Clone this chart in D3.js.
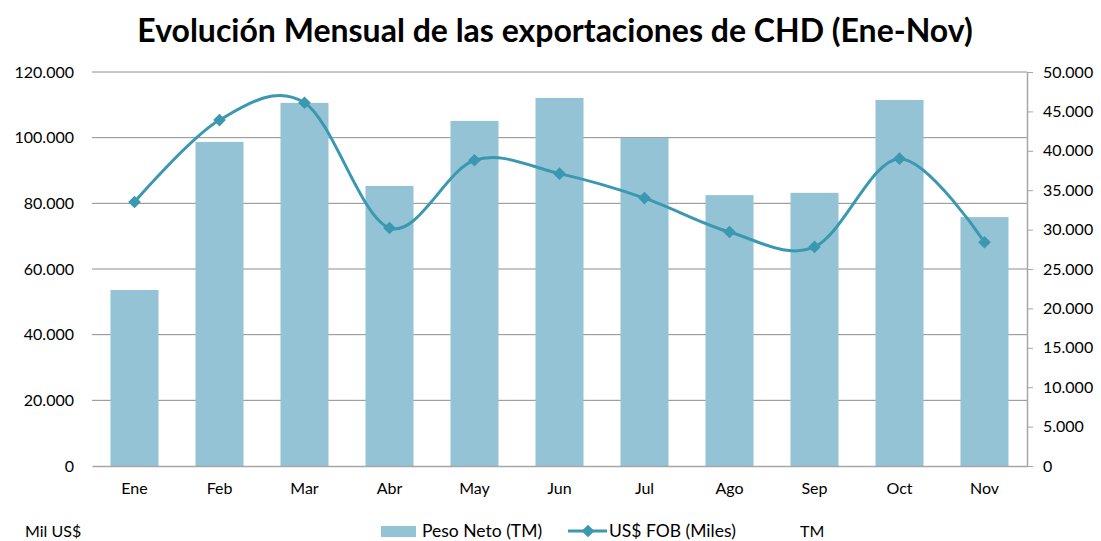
<!DOCTYPE html>
<html>
<head>
<meta charset="utf-8">
<script src="https://cdn.jsdelivr.net/npm/d3@7"></script>
<style>
  body { margin: 0; background: #fff; }
  text { font-family: Lato, "Open Sans", sans-serif; fill: #000; }
</style>
</head>
<body>
<div id="chart-area"></div>
<script>
const months = ["Ene", "Feb", "Mar", "Abr", "May", "Jun", "Jul", "Ago", "Sep", "Oct", "Nov"];
const pesoNeto = [53600, 98700, 110600, 85300, 105100, 112100, 99900, 82500, 83200, 111500, 75800];
const fobMiles = [33500, 43900, 46100, 30200, 38800, 37100, 34000, 29700, 27800, 39000, 28400];
const leftTicks = [0, 20000, 40000, 60000, 80000, 100000, 120000];
const rightTicks = [0, 5000, 10000, 15000, 20000, 25000, 30000, 35000, 40000, 45000, 50000];

const W = 1101, H = 541;
const margin = {top: 72, right: 74, bottom: 75, left: 92};
const width = W - margin.left - margin.right;
const height = H - margin.top - margin.bottom;

const barColor = "#93c3d4";
const lineColor = "#3a98b0";
const gridColor = "#8c8c8c";

const root = d3.select("#chart-area").append("svg")
    .attr("width", W)
    .attr("height", H);

root.append("text")
    .attr("x", 555)
    .attr("y", 42)
    .attr("text-anchor", "middle")
    .style("font-size", "32px")
    .style("font-weight", "bold")
    .text("Evolución Mensual de las exportaciones de CHD (Ene-Nov)");

const svg = root.append("g")
    .attr("transform", `translate(${margin.left}, ${margin.top})`);

const xScale = d3.scaleBand()
    .domain(months)
    .range([0, width])
    .paddingInner(0.435)
    .paddingOuter(0.2175);

const yLeft = d3.scaleLinear().domain([0, 120000]).range([height, 0]);
const yRight = d3.scaleLinear().domain([0, 50000]).range([height, 0]);

const thousands = d => d === 0 ? "0" : d3.format(".3f")(d / 1000);

// gridlines
svg.append("g")
    .selectAll("line")
    .data(leftTicks.slice(1))
    .join("line")
    .attr("x1", 0)
    .attr("x2", width)
    .attr("y1", d => yLeft(d))
    .attr("y2", d => yLeft(d))
    .attr("stroke", gridColor)
    .attr("stroke-width", 1);

// bars
svg.append("g")
    .selectAll("rect")
    .data(months)
    .join("rect")
    .attr("x", d => xScale(d))
    .attr("width", xScale.bandwidth())
    .attr("y", (d, i) => yLeft(pesoNeto[i]))
    .attr("height", (d, i) => height - yLeft(pesoNeto[i]))
    .attr("fill", barColor);

// left axis (labels only)
const leftAxis = svg.append("g")
    .call(d3.axisLeft(yLeft).tickValues(leftTicks).tickSize(0).tickPadding(18).tickFormat(thousands));
leftAxis.select(".domain").remove();
leftAxis.selectAll("text")
    .style("font-size", "16px")
    .style("font-family", "Lato, sans-serif");

// bottom axis
const bottomAxis = svg.append("g")
    .attr("transform", `translate(0, ${height})`)
    .call(d3.axisBottom(xScale).tickSize(0).tickPadding(17));
bottomAxis.select(".domain").attr("stroke", "#a6a6a6").attr("stroke-width", 1.5);
bottomAxis.selectAll("text")
    .style("font-size", "16px")
    .style("font-family", "Lato, sans-serif");

// right axis
const rightAxis = svg.append("g")
    .attr("transform", `translate(${width}, 0)`)
    .call(d3.axisRight(yRight).tickValues(rightTicks).tickSize(6).tickSizeOuter(0).tickPadding(10).tickFormat(thousands));
rightAxis.select(".domain").attr("stroke", "#a6a6a6").attr("stroke-width", 1.5);
rightAxis.selectAll("line").attr("stroke", "#a6a6a6");
rightAxis.selectAll("text")
    .style("font-size", "16px")
    .style("font-family", "Lato, sans-serif");

// line
const cx = d => xScale(d) + xScale.bandwidth() / 2;
const line = d3.line()
    .x(d => cx(d.m))
    .y(d => yRight(d.v))
    .curve(d3.curveCardinal.tension(0));
const pts = months.map((m, i) => ({m, v: fobMiles[i]}));

svg.append("path")
    .datum(pts)
    .attr("d", line)
    .attr("fill", "none")
    .attr("stroke", lineColor)
    .attr("stroke-width", 3);

const diamond = d3.symbol().type(d3.symbolSquare).size(80);
svg.append("g")
    .selectAll("path")
    .data(pts)
    .join("path")
    .attr("d", diamond)
    .attr("transform", d => `translate(${cx(d.m)}, ${yRight(d.v)}) rotate(45)`)
    .attr("fill", lineColor);

// legend
const legend = root.append("g");
legend.append("text")
    .attr("x", 25).attr("y", 537)
    .style("font-size", "16px")
    .text("Mil US$");
legend.append("rect")
    .attr("x", 381).attr("y", 526)
    .attr("width", 35).attr("height", 11)
    .attr("fill", barColor);
legend.append("text")
    .attr("x", 422).attr("y", 537)
    .style("font-size", "17.5px")
    .text("Peso Neto (TM)");
legend.append("line")
    .attr("x1", 568).attr("x2", 607)
    .attr("y1", 531).attr("y2", 531)
    .attr("stroke", lineColor)
    .attr("stroke-width", 3);
legend.append("path")
    .attr("d", diamond)
    .attr("transform", "translate(588, 531) rotate(45)")
    .attr("fill", lineColor);
legend.append("text")
    .attr("x", 609).attr("y", 537)
    .style("font-size", "17.5px")
    .text("US$ FOB (Miles)");
legend.append("text")
    .attr("x", 800).attr("y", 537)
    .style("font-size", "16px")
    .text("TM");
</script>
</body>
</html>
